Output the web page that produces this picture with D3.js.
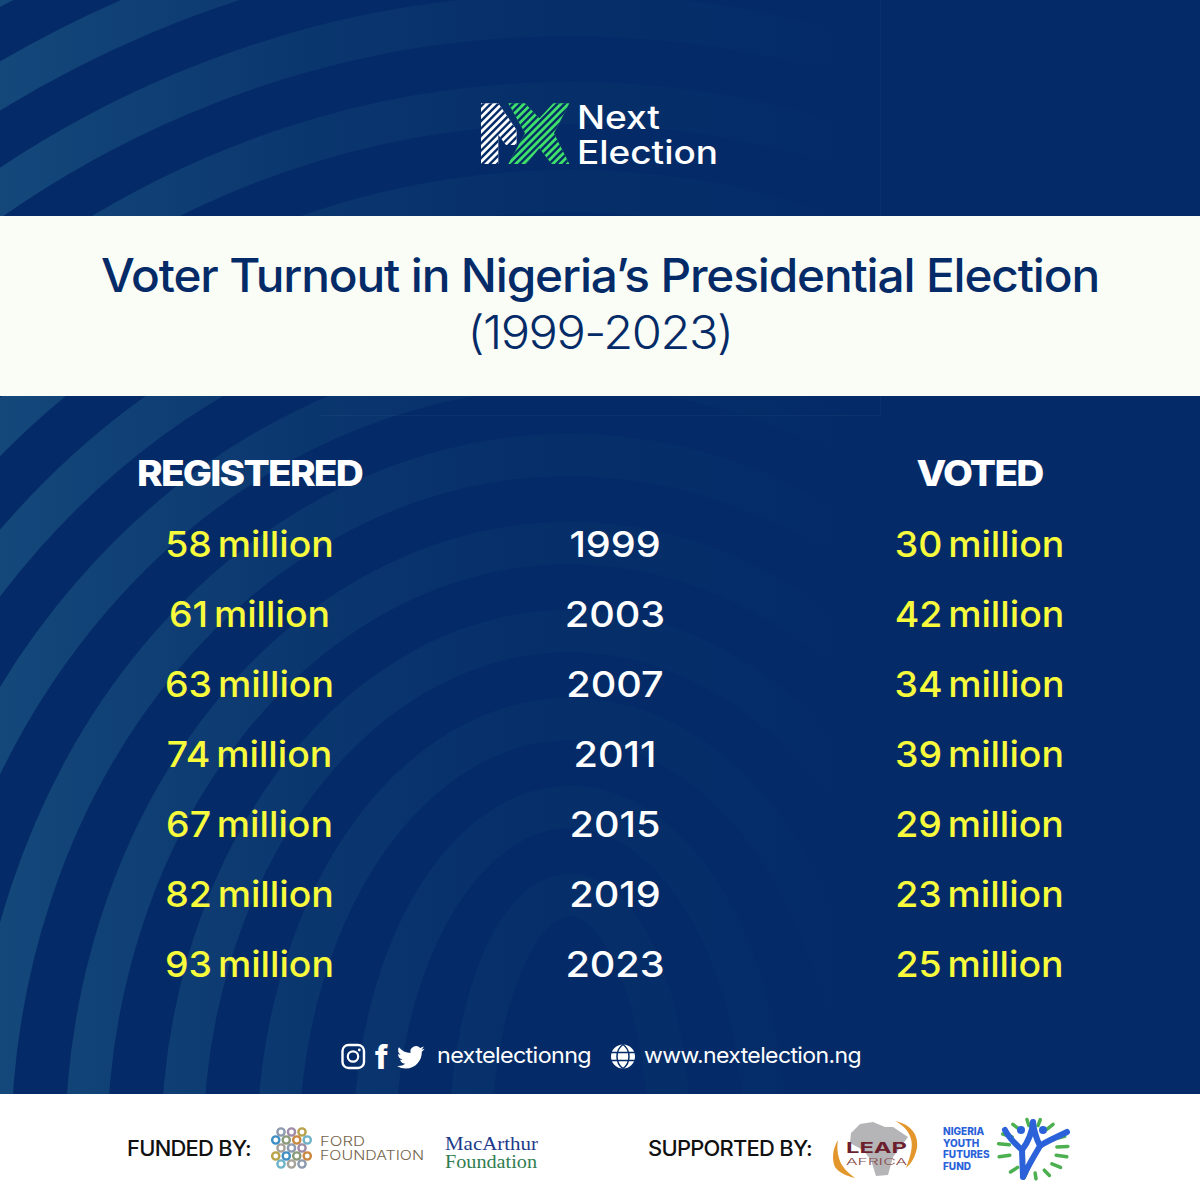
<!DOCTYPE html>
<html>
<head>
<meta charset="utf-8">
<script src="https://cdn.jsdelivr.net/npm/d3@7"></script>
<style>
  html, body { margin: 0; padding: 0; background: #fff; }
  svg { display: block; }
  text { font-family: Inter, "Noto Sans", sans-serif; }
</style>
</head>
<body>
<svg id="svg" width="1200" height="1200"></svg>
<script>
var years = [1999, 2003, 2007, 2011, 2015, 2019, 2023];
var registered = [58, 61, 63, 74, 67, 82, 93];
var voted = [30, 42, 34, 39, 29, 23, 25];
var columns = ["REGISTERED", "VOTED"];
var titleText = "Voter Turnout in Nigeria\u2019s Presidential Election";
var subtitleText = "(1999-2023)";
var handle = "nextelectionng";
var website = "www.nextelection.ng";

var navy = "#042b67";
var yellow = "#f8fa3c";

var svg = d3.select("#svg");
var defs = svg.append("defs");

// background: fingerprint rings fading out to the right
var fade = defs.append("linearGradient")
  .attr("id", "ring-fade")
  .attr("gradientUnits", "userSpaceOnUse")
  .attr("x1", 0).attr("x2", 860).attr("y1", 0).attr("y2", 0);
fade.append("stop").attr("offset", 0).attr("stop-color", "#2a6f95").attr("stop-opacity", 0.42);
fade.append("stop").attr("offset", 0.35).attr("stop-color", "#2a6f95").attr("stop-opacity", 0.17);
fade.append("stop").attr("offset", 0.6).attr("stop-color", "#2a6f95").attr("stop-opacity", 0.07);
fade.append("stop").attr("offset", 1).attr("stop-color", "#2a6f95").attr("stop-opacity", 0);

svg.append("rect").attr("width", 1200).attr("height", 1200).attr("fill", navy);

var cx = 570, cy = 1150;
svg.append("g").selectAll("path")
  .data(d3.range(0, 13))
  .join("path")
  .attr("d", function(i) {
    var rx = 100 + 96 * i, ry = 255 + 88 * i;
    return "M" + (cx - rx) + ",1240L" + (cx - rx) + "," + cy +
      "A" + rx + "," + ry + " 0 0 1 " + (cx + rx) + "," + cy + "L" + (cx + rx) + ",1240";
  })
  .attr("fill", "none")
  .attr("stroke", "url(#ring-fade)")
  .attr("stroke-width", 42);

// the faint artefact box left in the artwork
svg.append("path")
  .attr("d", "M320,415.5H880.5V0")
  .attr("fill", "none")
  .attr("stroke", "#ffffff")
  .attr("stroke-opacity", 0.035);

// title strip
svg.append("rect").attr("y", 216).attr("width", 1200).attr("height", 180).attr("fill", "#f9fdf6");
svg.append("text").text(titleText)
  .attr("x", 600).attr("y", 292)
  .attr("text-anchor", "middle")
  .attr("letter-spacing", -1.1)
  .attr("textLength", 998).attr("lengthAdjust", "spacingAndGlyphs")
  .attr("font-size", 46).attr("font-weight", 500)
  .attr("fill", navy);
svg.append("text").text(subtitleText)
  .attr("x", 600).attr("y", 349)
  .attr("text-anchor", "middle")
  .attr("letter-spacing", -1.4)
  .attr("textLength", 265).attr("lengthAdjust", "spacingAndGlyphs")
  .attr("font-size", 46).attr("font-weight", 300)
  .attr("fill", navy);

// table
var y = d3.scalePoint().domain(years).range([557, 977]);
var columnX = d3.scalePoint().domain(["registered", "year", "voted"]).range([249.5, 979.5]);

function wideText(g, x, sx) {
  return g.attr("transform", function(d) { return "translate(" + x + "," + y(d.year) + ") scale(" + sx + ",1)"; })
    .attr("text-anchor", "middle");
}

svg.append("g").selectAll("text")
  .data(columns)
  .join("text")
  .text(function(d) { return d; })
  .attr("transform", function(d, i) { return "translate(" + columnX(i ? "voted" : "registered") + ",486) scale(1.11,1)"; })
  .attr("text-anchor", "middle")
  .attr("font-size", 35).attr("font-weight", 800)
  .attr("letter-spacing", -1.6)
  .attr("fill", "#ffffff");

var regRows = years.map(function(d, i) { return {year: d, value: registered[i]}; });
var votedRows = years.map(function(d, i) { return {year: d, value: voted[i]}; });

svg.append("g").selectAll("text")
  .data(regRows)
  .join("text")
  .text(function(d) { return d.value + " million"; })
  .call(wideText, columnX("registered"), 1.04)
  .attr("word-spacing", -4)
  .attr("font-size", 36).attr("font-weight", 500)
  .attr("fill", yellow);

svg.append("g").selectAll("text")
  .data(years)
  .join("text")
  .text(function(d) { return d; })
  .attr("transform", function(d) { return "translate(615," + y(d) + ") scale(1.1,1)"; })
  .attr("text-anchor", "middle")
  .attr("font-size", 36).attr("font-weight", 500)
  .attr("fill", "#ffffff");

svg.append("g").selectAll("text")
  .data(votedRows)
  .join("text")
  .text(function(d) { return d.value + " million"; })
  .call(wideText, columnX("voted"), 1.04)
  .attr("word-spacing", -4)
  .attr("font-size", 36).attr("font-weight", 500)
  .attr("fill", yellow);

// logo
var logoX = function(v) { return 450 + v / 3; };
var logoY = function(v) { return 80 + v / 3; };
var logoPts = function(pts) {
  return pts.map(function(p) { return logoX(p[0]) + "," + logoY(p[1]); }).join(" ");
};
var logoShapes = [
  {id: "logo-p", color: "#ffffff", pts: [[93,70],[145,70],[200,150],[200,195],[168,195],[145,165],[145,252],[93,252]]},
  {id: "logo-x", color: "#3ee06a", pts: [[175,70],[225,70],[268,115],[310,70],[358,70],[312,160],[358,252],[305,252],[268,205],[228,252],[175,252],[225,160]]}
];
logoShapes.forEach(function(s) {
  defs.append("clipPath").attr("id", s.id).append("polygon").attr("points", logoPts(s.pts));
  var g = svg.append("g").attr("clip-path", "url(#" + s.id + ")");
  g.append("rect").attr("x", 470).attr("y", 95).attr("width", 110).attr("height", 80).attr("fill", s.color);
  g.selectAll("line").data(d3.range(0, 30)).join("line")
    .attr("x1", function(i) { return 390 + i * 7.4; }).attr("y1", 175)
    .attr("x2", function(i) { return 390 + i * 7.4 + 80; }).attr("y2", 95)
    .attr("stroke", navy).attr("stroke-width", 2.4);
});
svg.append("text").text("Next").attr("x", 577).attr("y", 129)
  .attr("textLength", 83).attr("lengthAdjust", "spacingAndGlyphs")
  .attr("font-size", 32).attr("font-weight", 500).attr("fill", "#ffffff");
svg.append("text").text("Election").attr("x", 577).attr("y", 164)
  .attr("textLength", 141).attr("lengthAdjust", "spacingAndGlyphs")
  .attr("font-size", 32).attr("font-weight", 500).attr("fill", "#ffffff");

// social row
var social = svg.append("g");
social.append("rect").attr("x", 342.5).attr("y", 1045).attr("width", 21.5).attr("height", 23).attr("rx", 6)
  .attr("fill", "none").attr("stroke", "#fff").attr("stroke-width", 2.4);
social.append("circle").attr("cx", 353).attr("cy", 1056.5).attr("r", 5.2)
  .attr("fill", "none").attr("stroke", "#fff").attr("stroke-width", 2.2);
social.append("circle").attr("cx", 359.3).attr("cy", 1050).attr("r", 1.4).attr("fill", "#fff");
social.append("text").text("f").attr("x", 375).attr("y", 1069)
  .attr("font-size", 32).attr("font-weight", 800).attr("fill", "#fff");
social.append("path")
  .attr("transform", "translate(397,1043.5) scale(1.15)")
  .attr("fill", "#fff")
  .attr("d", "M23.953 4.57a10 10 0 01-2.825.775 4.958 4.958 0 002.163-2.723c-.951.555-2.005.959-3.127 1.184a4.92 4.92 0 00-8.384 4.482C7.69 8.095 4.067 6.13 1.64 3.162a4.822 4.822 0 00-.666 2.475c0 1.71.87 3.213 2.188 4.096a4.904 4.904 0 01-2.228-.616v.06a4.923 4.923 0 003.946 4.827 4.996 4.996 0 01-2.212.085 4.936 4.936 0 004.604 3.417 9.867 9.867 0 01-6.102 2.105c-.39 0-.779-.023-1.17-.067a13.995 13.995 0 007.557 2.209c9.053 0 13.998-7.496 13.998-13.985 0-.21 0-.42-.015-.63A9.935 9.935 0 0024 4.59z");
social.append("text").text(handle).attr("x", 437).attr("y", 1063)
  .attr("letter-spacing", -0.6)
  .attr("textLength", 154).attr("lengthAdjust", "spacingAndGlyphs")
  .attr("font-size", 22).attr("font-weight", 400).attr("fill", "#fff");
social.append("circle").attr("cx", 623).attr("cy", 1056.5).attr("r", 12).attr("fill", "#fff");
social.append("path")
  .attr("d", "M611,1052.5H635M611,1060.5H635M623,1044.5C615,1050 615,1063 623,1068.5M623,1044.5C631,1050 631,1063 623,1068.5")
  .attr("fill", "none").attr("stroke", navy).attr("stroke-width", 1.5);
social.append("text").text(website).attr("x", 644).attr("y", 1063)
  .attr("letter-spacing", -0.6)
  .attr("textLength", 217).attr("lengthAdjust", "spacingAndGlyphs")
  .attr("font-size", 22).attr("font-weight", 400).attr("fill", "#fff");

// footer
svg.append("rect").attr("y", 1094).attr("width", 1200).attr("height", 106).attr("fill", "#ffffff");
var footer = svg.append("g");
footer.append("text").text("FUNDED BY:").attr("x", 127).attr("y", 1156)
  .attr("letter-spacing", -0.7)
  .attr("textLength", 124).attr("lengthAdjust", "spacingAndGlyphs")
  .attr("font-size", 21).attr("font-weight", 500).attr("fill", "#111");
footer.append("text").text("SUPPORTED BY:").attr("x", 648).attr("y", 1156)
  .attr("letter-spacing", -0.7)
  .attr("textLength", 164).attr("lengthAdjust", "spacingAndGlyphs")
  .attr("font-size", 21).attr("font-weight", 500).attr("fill", "#111");

// ford mark
var fordColors = ["#8d9ab0", "#a08ca8", "#b9a24a", "#3f8fc4", "#8a9a7a", "#c9873f", "#6fb3c9", "#a8a29a"];
var fordCells = [];
d3.range(-2, 3).forEach(function(r) {
  d3.range(-2, 3).forEach(function(c) {
    var px = (c + (r % 2 ? 0.5 : 0)) * 10.5, py = r * 8;
    if (Math.hypot(px, py) < 19.5) fordCells.push({x: 291.5 + px, y: 1148 + py});
  });
});
footer.append("g").selectAll("circle").data(fordCells).join("circle")
  .attr("cx", function(d) { return d.x; }).attr("cy", function(d) { return d.y; })
  .attr("r", 3.6).attr("fill", "#fff")
  .attr("stroke", function(d, i) { return fordColors[i % fordColors.length]; })
  .attr("stroke-width", 2.4);
footer.append("text").text("FORD").attr("x", 320).attr("y", 1146)
  .attr("textLength", 45).attr("lengthAdjust", "spacingAndGlyphs")
  .attr("font-size", 13).attr("font-weight", 300).attr("fill", "#75644c");
footer.append("text").text("FOUNDATION").attr("x", 320).attr("y", 1160)
  .attr("textLength", 104).attr("lengthAdjust", "spacingAndGlyphs")
  .attr("font-size", 13).attr("font-weight", 300).attr("fill", "#75644c");
footer.append("text").text("MacArthur").attr("x", 445).attr("y", 1150)
  .attr("textLength", 93).attr("lengthAdjust", "spacingAndGlyphs")
  .style("font-family", "'Liberation Serif', serif").attr("font-size", 18).attr("fill", "#1d3a8a");
footer.append("text").text("Foundation").attr("x", 445).attr("y", 1168)
  .attr("textLength", 92).attr("lengthAdjust", "spacingAndGlyphs")
  .style("font-family", "'Liberation Serif', serif").attr("font-size", 18).attr("fill", "#2f7d4f");

// leap africa mark
footer.append("path")
  .attr("d", "M851,1133L860,1124L873,1122L885,1127L893,1127L908,1137L893,1157L888,1175L876,1176L871,1160L863,1150L850,1143Z")
  .attr("fill", "#b5b5b8");
footer.append("path")
  .attr("d", "M895,1121C910,1124 919,1134 917,1148C915,1157 912,1163 906,1168C911,1155 913,1146 911,1139C909,1131 903,1125 895,1121Z")
  .attr("fill", "#e3962c");
footer.append("path")
  .attr("d", "M838,1140C832,1150 832,1160 835,1167C839,1173 847,1176 855,1178C847,1172 841,1166 839,1158C837,1152 837,1146 838,1140Z")
  .attr("fill", "#e3962c");
footer.append("text").text("LEAP").attr("x", 846).attr("y", 1153)
  .attr("textLength", 61).attr("lengthAdjust", "spacingAndGlyphs")
  .attr("font-size", 14).attr("font-weight", 700).attr("fill", "#6e1f2e");
footer.append("text").text("AFRICA").attr("x", 846).attr("y", 1165)
  .attr("textLength", 61).attr("lengthAdjust", "spacingAndGlyphs")
  .attr("font-size", 9).attr("font-weight", 300).attr("fill", "#8a4a4a");

// youth fund mark
var fundLines = ["NIGERIA", "YOUTH", "FUTURES", "FUND"];
footer.append("g").selectAll("text").data(fundLines).join("text")
  .text(function(d) { return d; })
  .attr("x", 943)
  .attr("y", function(d, i) { return 1135 + i * 11.7; })
  .attr("font-size", 10).attr("font-weight", 800).attr("fill", "#2b62d9");
var rayAngles = [-150, -125, -100, -78, -55, -25, -5, 15, 38, 62, 85, 105, 130, 165, 190];
footer.append("g").selectAll("line").data(rayAngles).join("line")
  .attr("x1", function(a) { return 1033 + 24 * Math.cos(a * Math.PI / 180); })
  .attr("y1", function(a) { return 1149 + 24 * Math.sin(a * Math.PI / 180); })
  .attr("x2", function(a) { return 1033 + 35 * Math.cos(a * Math.PI / 180); })
  .attr("y2", function(a) { return 1149 + 30 * Math.sin(a * Math.PI / 180); })
  .attr("stroke", "#4caf50").attr("stroke-width", 3.5).attr("stroke-linecap", "round");
footer.append("path")
  .attr("d", "M1005,1130C1010,1140 1018,1146 1022,1150L1023,1177M1067,1132C1055,1138 1045,1142 1040,1146C1034,1156 1028,1166 1023,1177M1033,1122C1032,1134 1028,1142 1022,1150M1033,1122C1034,1132 1037,1140 1040,1146")
  .attr("fill", "none").attr("stroke", "#2b62d9").attr("stroke-width", 6).attr("stroke-linecap", "round");
footer.append("circle").attr("cx", 1021).attr("cy", 1130).attr("r", 4).attr("fill", "#2b62d9");
footer.append("circle").attr("cx", 1043).attr("cy", 1130).attr("r", 4).attr("fill", "#2b62d9");
</script>
</body>
</html>
